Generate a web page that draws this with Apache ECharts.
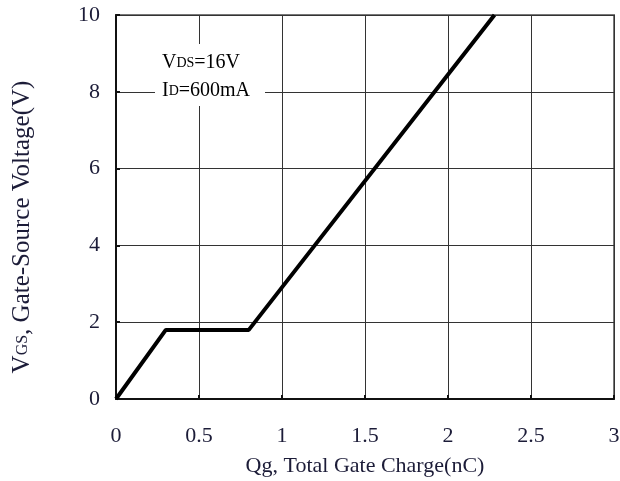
<!DOCTYPE html>
<html><head><meta charset="utf-8">
<script src="https://cdn.jsdelivr.net/npm/echarts@6/dist/echarts.min.js"></script>
<style>html,body{margin:0;padding:0;background:#fff}#c{width:620px;height:481px}</style>
</head><body><div id="c"></div>
<script>
const qg = [0, 0.3, 0.8, 2.28];
const vgs = [0, 1.8, 1.8, 10];
const xTicks = [0, 0.5, 1, 1.5, 2, 2.5, 3];
const yTicks = [0, 2, 4, 6, 8, 10];
const txt = '#1c1c38';
const font = 'Liberation Serif';
const chart = echarts.init(document.getElementById('c'));
chart.setOption({
  animation: false,
  backgroundColor: '#fff',
  grid: {left: 116, right: 6, top: 15, bottom: 82, containLabel: false, outerBoundsMode: 'none',
    show: true, borderColor: '#777', borderWidth: 2, backgroundColor: 'transparent'},
  xAxis: {
    type: 'value', min: 0, max: 3, interval: 0.5,
    axisLine: {show: true, lineStyle: {color: '#111', width: 2}},
    axisTick: {show: true, inside: true, length: 4, lineStyle: {color: '#111', width: 2}},
    splitLine: {show: true, lineStyle: {color: '#333', width: 1}},
    axisLabel: {margin: 26, fontFamily: font, fontSize: 22, color: txt,
      formatter: v => xTicks.includes(v) ? String(v) : ''},
    name: 'Qg, Total Gate Charge(nC)', nameLocation: 'middle', nameGap: 56,
    nameTextStyle: {fontFamily: font, fontSize: 22, color: txt}
  },
  yAxis: {
    type: 'value', min: 0, max: 10, interval: 2,
    axisLine: {show: true, lineStyle: {color: '#111', width: 2}},
    axisTick: {show: true, inside: true, length: 4, lineStyle: {color: '#111', width: 2}},
    splitLine: {show: true, lineStyle: {color: '#333', width: 1}},
    axisLabel: {margin: 16, fontFamily: font, fontSize: 22, color: txt,
      formatter: v => yTicks.includes(v) ? String(v) : ''},
    name: '{a|V}{s|GS}{a|, Gate-Source Voltage(V)}', nameLocation: 'middle', nameGap: 81,
    nameTextStyle: {padding: [0, 40, 0, 0], rich: {
      a: {fontFamily: font, fontSize: 25, color: txt},
      s: {fontFamily: font, fontSize: 16, color: txt}
    }}
  },
  graphic: [{
    type: 'group', left: 155, top: 44, z: 100,
    children: [
      {type: 'rect', z: 100, shape: {x: 0, y: 0, width: 110, height: 62}, style: {fill: '#fff'}},
      {type: 'text', z: 101, x: 7, y: 5, style: {
        text: '{a|V}{s|DS}{a|=16V}\n{a|I}{s|D}{a|=600mA}',
        rich: {
          a: {fontFamily: font, fontSize: 20, color: txt, lineHeight: 28},
          s: {fontFamily: font, fontSize: 14, color: txt, lineHeight: 28}
        }
      }}
    ]
  }],
  series: [{
    type: 'line', data: qg.map((x, i) => [x, vgs[i]]),
    showSymbol: false, lineStyle: {color: '#000', width: 4}, z: 5
  }]
});
</script></body></html>
